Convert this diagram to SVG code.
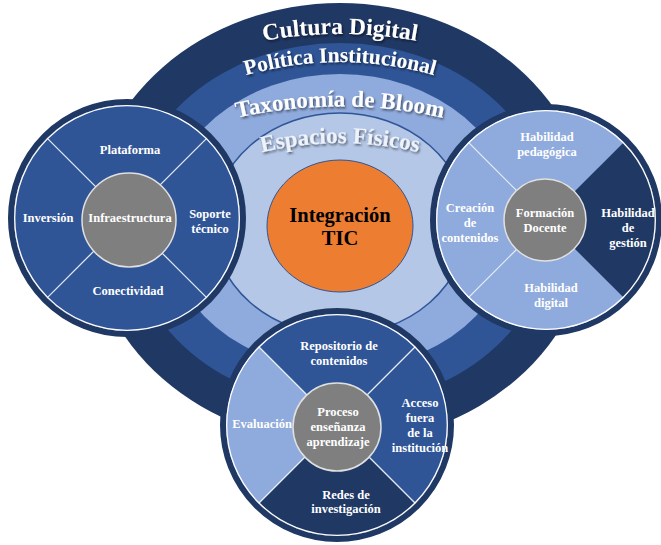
<svg xmlns="http://www.w3.org/2000/svg" width="661" height="545" viewBox="0 0 661 545">
<defs>
<style>
.t{font-family:"Liberation Serif","Times New Roman",serif;font-weight:bold;fill:#fff;text-anchor:middle;font-size:12.5px}
.arc{font-family:"Liberation Serif","Times New Roman",serif;font-weight:bold;fill:#fff}
.div{stroke:#e8eef8;stroke-width:1.2}
.brd{fill:none;stroke:#203864;stroke-width:6}
.wl{fill:none;stroke:#fff;stroke-width:1.3}
.hub{fill:#7f7f7f;stroke:#e0e0e0;stroke-width:1.5}
</style>
<filter id="sh" x="-10%" y="-30%" width="120%" height="160%">
<feDropShadow dx="1.2" dy="1.8" stdDeviation="1" flood-color="#000" flood-opacity="0.55"/>
</filter>
<path id="p1" d="M190,61 A430,430 0 0 1 490,61"/>
<path id="p2" d="M190,97 A340,340 0 0 1 490,97"/>
<path id="p3" d="M190,131 A470,470 0 0 1 490,131"/>
<path id="p4" d="M190,178 A340,340 0 0 1 490,178"/>
</defs>
<rect width="661" height="545" fill="#fff"/>
<g id="rings">
<ellipse cx="340" cy="223" rx="251" ry="220" fill="#203864"/>
<ellipse cx="340" cy="224" rx="212" ry="181" fill="#2f5597"/>
<ellipse cx="340" cy="222" rx="176" ry="148" fill="#8faadc"/>
<ellipse cx="340" cy="224" rx="127" ry="111" fill="#b4c7e7" stroke="#2f5597" stroke-width="1.5"/>
<text class="arc" font-size="23.5" filter="url(#sh)"><textPath href="#p1" startOffset="50%" text-anchor="middle">Cultura Digital</textPath></text>
<text class="arc" font-size="21.5" filter="url(#sh)"><textPath href="#p2" startOffset="50%" text-anchor="middle">Política Institucional</textPath></text>
<text class="arc" font-size="23" filter="url(#sh)"><textPath href="#p3" startOffset="50%" text-anchor="middle">Taxonomía de Bloom</textPath></text>
<text class="arc" font-size="23" filter="url(#sh)" style="fill:#eef2fa"><textPath href="#p4" startOffset="50%" text-anchor="middle">Espacios Físicos</textPath></text>
</g>
<g id="integracion">
<ellipse cx="340" cy="226" rx="73" ry="66" fill="#ed7d31" stroke="#2f5597" stroke-width="1"/>
<text class="t" style="fill:#000;font-size:20.5px" x="340" y="222">Integración</text>
<text class="t" style="fill:#000;font-size:20.5px" x="340" y="245">TIC</text>
</g>
<g id="infraestructura">
<circle cx="127" cy="218" r="113" fill="#2f5597"/>
<line class="div" x1="47.1" y1="138.1" x2="206.9" y2="297.9"/>
<line class="div" x1="206.9" y1="138.1" x2="47.1" y2="297.9"/>
<circle class="brd" cx="127" cy="218" r="116"/>
<circle class="wl" cx="127" cy="218" r="112.3"/>
<circle class="hub" cx="129" cy="220" r="47"/>
<text class="t" x="130" y="154">Plataforma</text>
<text class="t" x="48" y="222">Inversión</text>
<text class="t" x="130" y="222">Infraestructura</text>
<text class="t" x="210" y="218">Soporte</text>
<text class="t" x="210" y="233">técnico</text>
<text class="t" x="128" y="295">Conectividad</text>
</g>
<g id="formacion">
<circle cx="546" cy="220" r="110" fill="#8faadc"/>
<path d="M546,220 L623.8,142.2 A110,110 0 0 1 623.8,297.8 Z" fill="#203864"/>
<line class="div" x1="546" y1="220" x2="468.2" y2="142.2"/>
<line class="div" x1="546" y1="220" x2="468.2" y2="297.8"/>
<circle class="brd" cx="546" cy="220" r="113"/>
<circle class="wl" cx="546" cy="220" r="109.3"/>
<circle class="hub" cx="545" cy="220" r="41"/>
<text class="t" x="547" y="141">Habilidad</text>
<text class="t" x="547" y="156">pedagógica</text>
<text class="t" x="470" y="212">Creación</text>
<text class="t" x="470" y="227">de</text>
<text class="t" x="470" y="242">contenidos</text>
<text class="t" x="545" y="217">Formación</text>
<text class="t" x="545" y="232">Docente</text>
<text class="t" x="628" y="217">Habilidad</text>
<text class="t" x="628" y="232">de</text>
<text class="t" x="628" y="247">gestión</text>
<text class="t" x="551" y="292">Habilidad</text>
<text class="t" x="551" y="307">digital</text>
</g>
<g id="proceso">
<circle cx="337" cy="425" r="111" fill="#2f5597"/>
<path d="M337,425 L258.5,503.5 A111,111 0 0 1 258.5,346.5 Z" fill="#8faadc"/>
<path d="M337,425 L415.5,503.5 A111,111 0 0 1 258.5,503.5 Z" fill="#203864"/>
<line class="div" x1="258.5" y1="346.5" x2="415.5" y2="503.5"/>
<line class="div" x1="415.5" y1="346.5" x2="258.5" y2="503.5"/>
<circle class="brd" cx="337" cy="425" r="114"/>
<circle class="wl" cx="337" cy="425" r="110.3"/>
<circle class="hub" cx="337" cy="427" r="44"/>
<text class="t" x="339" y="350">Repositorio de</text>
<text class="t" x="339" y="365">contenidos</text>
<text class="t" x="262" y="428">Evaluación</text>
<text class="t" x="338" y="416">Proceso</text>
<text class="t" x="338" y="431">enseñanza</text>
<text class="t" x="338" y="446">aprendizaje</text>
<text class="t" x="420" y="407">Acceso</text>
<text class="t" x="420" y="422">fuera</text>
<text class="t" x="420" y="437">de la</text>
<text class="t" x="420" y="452">institución</text>
<text class="t" x="346" y="499">Redes de</text>
<text class="t" x="346" y="513">investigación</text>
</g>
</svg>
